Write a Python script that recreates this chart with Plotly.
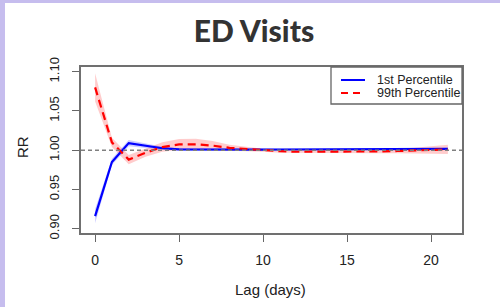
import plotly.graph_objects as go

lags = list(range(22))

p1_rr = [0.916, 0.985, 1.009, 1.006, 1.0025, 1.001, 1.0008, 1.0007, 1.0007, 1.0008,
         1.0008, 1.0009, 1.0009, 1.001, 1.001, 1.001, 1.0011, 1.0012, 1.0013, 1.0014,
         1.0015, 1.0016]
p1_lo = [0.907, 0.981, 1.005, 1.003, 1.0005, 0.9995, 0.9993, 0.9993, 0.9994, 0.9996,
         0.9998, 0.9999, 0.9999, 1.0, 1.0, 1.0, 1.0, 1.0001, 1.0001, 1.0001,
         1.0001, 1.0001]
p1_hi = [0.925, 0.989, 1.013, 1.009, 1.0045, 1.0025, 1.0023, 1.0021, 1.002, 1.002,
         1.0018, 1.0019, 1.0019, 1.002, 1.002, 1.002, 1.0022, 1.0023, 1.0025, 1.0027,
         1.0029, 1.0031]

p99_rr = [1.080, 1.010, 0.988, 0.9967, 1.004, 1.0073, 1.0075, 1.0058, 1.003, 1.0013,
          1.000, 0.9988, 0.998, 0.998, 0.998, 0.998, 0.9982, 0.9985, 0.999, 0.9995,
          1.0003, 1.001]
p99_lo = [1.062, 1.004, 0.982, 0.9917, 0.998, 1.0003, 1.0005, 0.9998, 0.999, 0.9983,
          0.998, 0.9968, 0.996, 0.996, 0.996, 0.996, 0.996, 0.996, 0.9962, 0.9958,
          0.9955, 0.995]
p99_hi = [1.098, 1.016, 0.994, 1.0017, 1.010, 1.0143, 1.0145, 1.0118, 1.007, 1.0043,
          1.002, 1.0008, 1.0, 1.0, 1.0, 1.0, 1.0004, 1.001, 1.0018, 1.0032,
          1.0051, 1.007]

x_ticks = [0, 5, 10, 15, 20]
y_ticks = [0.90, 0.95, 1.00, 1.05, 1.10]
y_tick_text = ["0.90", "0.95", "1.00", "1.05", "1.10"]

series_names = ["1st Percentile", "99th Percentile"]
title_text = "ED Visits"

fig = go.Figure()

# confidence bands
fig.add_trace(go.Scatter(x=lags + lags[::-1], y=p99_hi + p99_lo[::-1], fill="toself",
                         fillcolor="rgba(255,0,0,0.2)", line=dict(width=0),
                         hoverinfo="skip", showlegend=False))
fig.add_trace(go.Scatter(x=lags + lags[::-1], y=p1_hi + p1_lo[::-1], fill="toself",
                         fillcolor="rgba(0,0,255,0.2)", line=dict(width=0),
                         hoverinfo="skip", showlegend=False))

fig.add_trace(go.Scatter(x=lags, y=p1_rr, mode="lines", name=series_names[0],
                         line=dict(color="#0000ff", width=2.2), showlegend=False))
fig.add_trace(go.Scatter(x=lags, y=p99_rr, mode="lines", name=series_names[1],
                         line=dict(color="#ff0000", width=2.2, dash="8px,5px"),
                         showlegend=False))

# page offset of the figure (lavender frame on top/left of the page)
OX, OY = 5, 3
W, H = 500 - OX, 307 - OY
L, R, T, B = 81 - OX, 38, 67 - OY, 74
pw, ph = W - L - R, H - T - B


def px(xp):
    return (xp - OX - L) / pw


def py(yp):
    return (H - B - (yp - OY)) / ph


annotations = [
    dict(text=series_names[0], xref="paper", yref="paper", x=px(375), y=py(80),
         xanchor="left", yanchor="middle", showarrow=False,
         font=dict(family="Liberation Sans", size=12.5, color="#222222")),
    dict(text=series_names[1], xref="paper", yref="paper", x=px(375), y=py(93),
         xanchor="left", yanchor="middle", showarrow=False,
         font=dict(family="Liberation Sans", size=12.5, color="#222222")),
    dict(text="RR", xref="paper", yref="paper", x=px(22), y=py(147), textangle=-90,
         xanchor="center", yanchor="middle", showarrow=False,
         font=dict(family="Liberation Sans", size=15, color="#222222")),
    dict(text="Lag (days)", xref="paper", yref="paper", x=px(270), y=py(289),
         xanchor="center", yanchor="middle", showarrow=False,
         font=dict(family="Liberation Sans", size=15, color="#222222")),
]

fig.update_layout(
    width=W, height=H,
    margin=dict(l=L, r=R, t=T, b=B, pad=0),
    paper_bgcolor="white", plot_bgcolor="white",
    showlegend=False,
    title=dict(text=title_text, x=(254 - OX) / W, xref="container", xanchor="center",
               y=1 - (31 - OY) / H, yref="container", yanchor="middle",
               font=dict(family="Lato", size=30, color="#333333", weight=900)),
    annotations=annotations,
)

# reference line at RR = 1
fig.add_hline(y=1.0, line=dict(color="#808080", width=1.5, dash="4px,3px"))

# legend box (drawn by hand, R style)
fig.add_shape(type="rect", xref="paper", yref="paper", x0=px(331), x1=1.0, y0=py(104), y1=1.0,
              fillcolor="white", line=dict(color="#666666", width=1.3), layer="above")
fig.add_shape(type="line", xref="paper", yref="paper", x0=px(341), x1=px(365), y0=py(80),
              y1=py(80), line=dict(color="#0000ff", width=2))
fig.add_shape(type="line", xref="paper", yref="paper", x0=px(341), x1=px(365), y0=py(93),
              y1=py(93), line=dict(color="#ff0000", width=2, dash="7px,5px"))

fig.update_xaxes(range=[-0.84, 21.84], tickvals=x_ticks, ticks="outside", ticklen=7,
                 tickcolor="#666666", showgrid=False, zeroline=False, showline=True,
                 linecolor="#707070", linewidth=1.5, mirror=True,
                 tickfont=dict(family="Liberation Sans", size=14, color="#222222"),
                 ticklabelstandoff=6)
fig.update_yaxes(range=[0.8945, 1.106], tickvals=y_ticks, ticktext=y_tick_text,
                 tickangle=-90, ticks="outside", ticklen=7, tickcolor="#666666",
                 showgrid=False, zeroline=False, showline=True, linecolor="#707070",
                 linewidth=1.5, mirror=True,
                 tickfont=dict(family="Liberation Sans", size=13, color="#222222"),
                 ticklabelstandoff=8)

page_css = ("document.body.style.margin='0';"
            "document.body.style.background='#c6bdee';"
            "document.body.style.padding='%dpx 0 0 %dpx';" % (OY, OX))

fig.write_html("out.html", config={"displayModeBar": False}, post_script=page_css)
